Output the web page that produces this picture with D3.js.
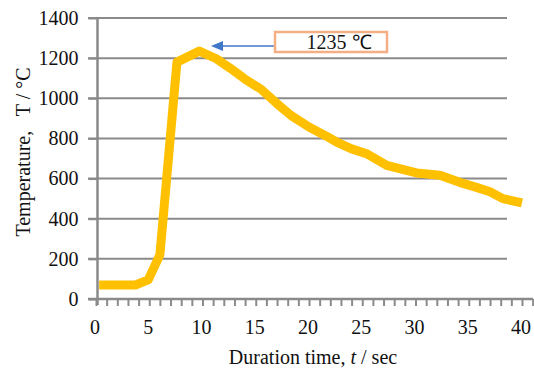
<!DOCTYPE html>
<html>
<head>
<meta charset="utf-8">
<script src="https://cdn.jsdelivr.net/npm/d3@7"></script>
<style>
  body { margin: 0; background: #fff; }
  svg { display: block; }
</style>
</head>
<body>
<div id="chart"></div>
<script>
// values
const time_sec = [0.3, 1, 2, 3, 3.7, 4.9, 6, 7.6, 9.7, 11.3, 12.6, 14, 15.5, 17, 18.3, 20,
                  21.5, 22.6, 24, 25.4, 27.3, 28.5, 30.1, 32.3, 34.2, 35.5, 37, 38.2, 40];
const temperature = [70, 70, 70, 70, 70, 95, 220, 1180, 1235, 1197, 1150, 1095, 1045, 973, 915, 857,
                     815, 782, 748, 724, 666, 650, 628, 617, 580, 560, 534, 500, 479];
const x_ticks = [0, 5, 10, 15, 20, 25, 30, 35, 40];
const y_ticks = [0, 200, 400, 600, 800, 1000, 1200, 1400];
const peak_label = "1235 \u2103";

const serif = "'Liberation Serif', 'Times New Roman', serif";
const width = 534, height = 369;
const svg = d3.select("#chart").append("svg")
    .attr("width", width)
    .attr("height", height);

const x = d3.scaleLinear().domain([0, 40]).range([96, 522]);
const y = d3.scaleLinear().domain([0, 1400]).range([299, 18]);

const grid_color = "#8a8a8a";

// horizontal gridlines
svg.append("g")
    .selectAll("line")
    .data(y_ticks.filter(d => d > 0))
    .join("line")
    .attr("x1", 88).attr("x2", 507)
    .attr("y1", d => y(d)).attr("y2", d => y(d))
    .attr("stroke", grid_color)
    .attr("stroke-width", 2);

// y axis
const yAxis = svg.append("g")
    .attr("transform", "translate(97.5,0)")
    .call(d3.axisLeft(y).tickValues(y_ticks).tickSize(9).tickPadding(10).tickFormat(d3.format("d")));
yAxis.attr("font-family", null).attr("font-size", null);
yAxis.select(".domain").attr("stroke", grid_color).attr("stroke-width", 2.5)
    .attr("d", "M0," + y(1400) + "V" + (y(0) + 6));
yAxis.selectAll(".tick line").attr("stroke", grid_color).attr("stroke-width", 2);
yAxis.selectAll(".tick text")
    .style("font-family", serif)
    .style("font-size", "20px")
    .attr("fill", "#111");

// x axis with a tick every second
const xAxis = svg.append("g")
    .attr("transform", "translate(0," + y(0) + ")")
    .call(d3.axisBottom(x).tickValues(d3.range(0, 42)).tickSize(7).tickFormat(""));
xAxis.select(".domain").attr("stroke", grid_color).attr("stroke-width", 2.5)
    .attr("d", "M88,0H533");
xAxis.selectAll(".tick line").attr("stroke", grid_color).attr("stroke-width", 2);

svg.append("g")
    .selectAll("text")
    .data(x_ticks)
    .join("text")
    .attr("x", d => x(d) - 1)
    .attr("y", 334)
    .attr("text-anchor", "middle")
    .style("font-family", serif)
    .style("font-size", "20px")
    .attr("fill", "#111")
    .text(d => d);

// temperature curve
const line = d3.line()
    .x((d, i) => x(time_sec[i]))
    .y(d => y(d));
svg.append("path")
    .datum(temperature)
    .attr("d", line)
    .attr("fill", "none")
    .attr("stroke", "#FFC000")
    .attr("stroke-width", 9)
    .attr("stroke-linejoin", "round")
    .attr("stroke-linecap", "butt");

// annotation arrow and box
const arrow_y = 46;
svg.append("line")
    .attr("x1", 275).attr("x2", 220)
    .attr("y1", arrow_y).attr("y2", arrow_y)
    .attr("stroke", "#3f78c8")
    .attr("stroke-width", 1.5);
svg.append("path")
    .attr("d", `M211,${arrow_y}L223,${arrow_y - 5}L223,${arrow_y + 5}Z`)
    .attr("fill", "#3f78c8");
svg.append("rect")
    .attr("x", 275).attr("y", 32)
    .attr("width", 112).attr("height", 20)
    .attr("fill", "#fff")
    .attr("stroke", "#F6AE84")
    .attr("stroke-width", 2.5);
svg.append("text")
    .attr("x", 339).attr("y", 49)
    .attr("text-anchor", "middle")
    .style("font-family", serif)
    .style("font-size", "20px")
    .attr("fill", "#111")
    .text(peak_label);

// axis titles
svg.append("text")
    .attr("transform", "translate(30,152) rotate(-90)")
    .attr("text-anchor", "middle")
    .style("font-family", serif)
    .style("font-size", "20px")
    .style("white-space", "pre")
    .attr("fill", "#111")
    .text("Temperature,   T / \u00B0C");

const xt = svg.append("text")
    .attr("x", 313).attr("y", 364)
    .attr("text-anchor", "middle")
    .style("font-family", serif)
    .style("font-size", "20px")
    .attr("fill", "#111");
xt.append("tspan").text("Duration time, ");
xt.append("tspan").attr("font-style", "italic").text("t");
xt.append("tspan").text(" / sec");
</script>
</body>
</html>
